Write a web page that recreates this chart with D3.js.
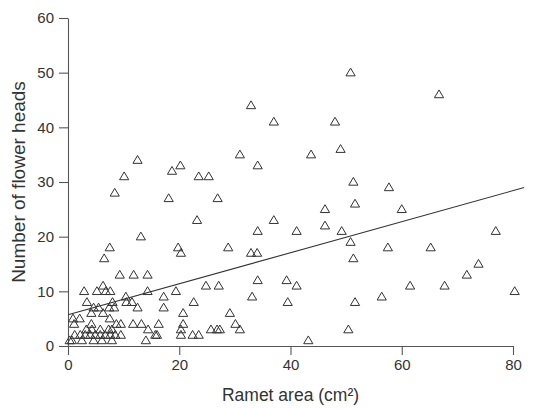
<!DOCTYPE html>
<html>
<head>
<meta charset="utf-8">
<script src="https://cdn.jsdelivr.net/npm/d3@7"></script>
<style>
  body { margin: 0; background: #fff; }
  text { font-family: "Liberation Sans", Arial, sans-serif; fill: #333; }
</style>
</head>
<body>
<script>
// ramet area (cm²) and number of flower heads
const rametArea = [
  50.8, 66.7, 32.9, 37.0, 48.0, 49.0, 30.9, 43.7, 34.1, 51.3, 57.7, 51.6, 60.0, 46.2, 46.2, 49.2,
  76.9, 41.1, 34.1, 50.8, 57.5, 65.2, 51.3, 73.8, 71.7, 61.5, 67.7, 56.4, 80.3, 51.6, 50.4, 26.9,
  23.2, 37.0, 19.8, 20.3, 28.8, 32.9, 34.0, 19.4, 24.8, 27.1, 34.1, 39.3, 41.1, 22.6, 33.1, 39.5,
  20.7, 29.1, 20.7, 30.1, 20.3, 30.9, 20.3, 22.4, 23.5, 25.7, 26.8, 27.3, 43.2,
  12.5, 10.1, 8.4, 20.2, 18.7, 23.5, 25.3, 18.1, 13.1, 7.5, 6.5, 9.3, 11.8, 14.3,
  2.9, 5.2, 6.3, 6.8, 7.6, 14.3, 10.4, 17.2, 3.4, 8.0, 10.5, 11.5, 12.5, 17.2, 4.6, 5.5,
  7.4, 8.3, 4.2, 6.3, 0.9, 2.1, 7.5, 1.1, 4.2, 8.7, 9.5, 11.7, 13.2, 16.3, 3.3, 4.3,
  5.8, 7.3, 7.9, 14.4, 9.5, 15.7, 16.0, 1.2, 2.2, 3.1, 4.0, 4.9, 5.8, 6.7, 7.6, 8.5,
  0.3, 0.7, 2.5, 4.6, 6.1, 7.9, 14.0
];
const flowerHeads = [
  50, 46, 44, 41, 41, 36, 35, 35, 33, 30, 29, 26, 25, 25, 22, 21,
  21, 21, 21, 19, 18, 18, 16, 15, 13, 11, 11, 9, 10, 8, 3, 27,
  23, 23, 18, 17, 18, 17, 17, 10, 11, 11, 12, 12, 11, 8, 9, 8,
  6, 6, 4, 4, 3, 3, 2, 2, 2, 3, 3, 3, 1,
  34, 31, 28, 33, 32, 31, 31, 27, 20, 18, 16, 13, 13, 13,
  10, 10, 11, 10, 10, 10, 9, 9, 8, 8, 8, 8, 7, 7, 7, 7,
  7, 7, 6, 6, 5, 5, 5, 4, 4, 4, 4, 4, 4, 4, 3, 3,
  3, 3, 3, 3, 2, 2, 2, 2, 2, 2, 2, 2, 2, 2, 2, 2,
  1, 1, 1, 1, 1, 1, 1
];

// fitted line (intercept, slope) and its x extent
const fitLine = [[0, 5.7], [82, 5.7 + 0.284 * 82]];

const xTicks = [0, 20, 40, 60, 80];
const yTicks = [0, 10, 20, 30, 40, 50, 60];

const margin = { top: 18, left: 68, right: 21, bottom: 63 };
const W = 534, H = 409;

const x = d3.scaleLinear().domain([0, 80]).range([margin.left, W - margin.right]);
const y = d3.scaleLinear().domain([0, 60]).range([H - margin.bottom, margin.top]);

const svg = d3.select("body").append("svg")
  .attr("width", W)
  .attr("height", H);

// axes
const xAxis = svg.append("g")
  .attr("transform", `translate(0,${y(0)})`)
  .call(d3.axisBottom(x).tickValues(xTicks).tickSize(9).tickSizeOuter(0).tickPadding(4));

const yAxis = svg.append("g")
  .attr("transform", `translate(${x(0)},0)`)
  .call(d3.axisLeft(y).tickValues(yTicks).tickSize(9).tickSizeOuter(0).tickPadding(5));

[xAxis, yAxis].forEach(g => {
  g.selectAll("path, line").attr("stroke", "#555").attr("stroke-width", 1.1);
  g.selectAll("text").attr("font-size", 15).attr("fill", "#333")
    .attr("font-family", "'Liberation Sans', Arial, sans-serif");
});

// regression line
svg.append("path")
  .datum(fitLine)
  .attr("fill", "none")
  .attr("stroke", "#333")
  .attr("stroke-width", 1.1)
  .attr("d", d3.line().x(d => x(d[0])).y(d => y(d[1])));

// open triangle markers
const tri = "M0,-4.6L4.6,3.2L-4.6,3.2Z";
svg.append("g")
  .selectAll("path")
  .data(rametArea.map((a, i) => [a, flowerHeads[i]]))
  .enter()
  .append("path")
  .attr("d", tri)
  .attr("transform", d => `translate(${x(d[0])},${y(d[1])})`)
  .attr("fill", "none")
  .attr("stroke", "#333")
  .attr("stroke-width", 1);

// axis titles
svg.append("text")
  .attr("x", x(40))
  .attr("y", 401)
  .attr("text-anchor", "middle")
  .attr("font-size", 17.5)
  .text("Ramet area (cm²)");

svg.append("text")
  .attr("transform", `translate(25,${y(30)}) rotate(-90)`)
  .attr("text-anchor", "middle")
  .attr("font-size", 19)
  .text("Number of flower heads");
</script>
</body>
</html>
